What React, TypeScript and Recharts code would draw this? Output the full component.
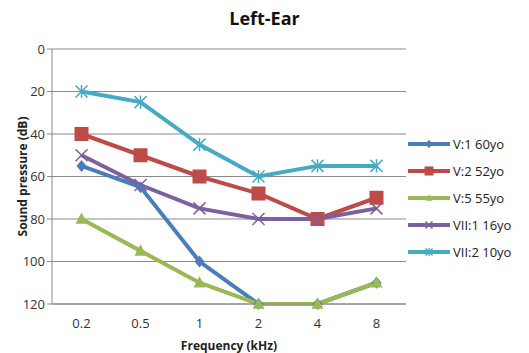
import React from "react"
import { CartesianGrid, Label, Line, LineChart, XAxis, YAxis } from "recharts"

// hearing thresholds per frequency (dB)
const frequencies = ["0.2", "0.5", "1", "2", "4", "8"]
const v1 = [55, 65, 100, 120, 120, 110]
const v2 = [40, 50, 60, 68, 80, 70]
const v5 = [80, 95, 110, 120, 120, 110]
const vii1 = [50, 64, 75, 80, 80, 75]
const vii2 = [20, 25, 45, 60, 55, 55]
const yTicks = [0, 20, 40, 60, 80, 100, 120]

const series = [
  { key: "v1", name: "V:1 60yo", values: v1, color: "#4A7EBB", shape: "diamond" },
  { key: "v2", name: "V:2 52yo", values: v2, color: "#BE4B48", shape: "square" },
  { key: "v5", name: "V:5 55yo", values: v5, color: "#98B954", shape: "triangle" },
  { key: "vii1", name: "VII:1 16yo", values: vii1, color: "#7D60A0", shape: "cross" },
  { key: "vii2", name: "VII:2 10yo", values: vii2, color: "#46AAC5", shape: "star" },
]

const data = frequencies.map((f, i) => {
  const row: Record<string, string | number> = { freq: f }
  series.forEach((s) => (row[s.key] = s.values[i]))
  return row
})

const FONT = "'Open Sans', 'Liberation Sans', sans-serif"

function Marker({ shape, cx, cy, color, r }: { shape: string; cx: number; cy: number; color: string; r: number }) {
  switch (shape) {
    case "diamond":
      return <path d={`M${cx},${cy - r * 1.2}L${cx + r},${cy}L${cx},${cy + r * 1.2}L${cx - r},${cy}Z`} fill={color} />
    case "square":
      return <rect x={cx - r} y={cy - r} width={r * 2} height={r * 2} fill={color} />
    case "triangle":
      return <path d={`M${cx},${cy - r * 1.1}L${cx + r},${cy + r * 0.8}L${cx - r},${cy + r * 0.8}Z`} fill={color} />
    case "cross":
      return (
        <path d={`M${cx - r},${cy - r}L${cx + r},${cy + r}M${cx + r},${cy - r}L${cx - r},${cy + r}`} stroke={color} strokeWidth={1.5} fill="none" />
      )
    default:
      return (
        <path
          d={`M${cx - r},${cy - r}L${cx + r},${cy + r}M${cx + r},${cy - r}L${cx - r},${cy + r}M${cx},${cy - r * 1.1}L${cx},${cy + r * 1.1}`}
          stroke={color}
          strokeWidth={1.5}
          fill="none"
        />
      )
  }
}

const dotSize: Record<string, number> = { diamond: 5, square: 7, triangle: 6, cross: 6, star: 6 }

function LegendBox() {
  return (
    <div style={{ position: "absolute", left: 407, top: 130, fontFamily: FONT, fontSize: 13, color: "#222" }}>
      {series.map((s) => (
        <div key={s.key} style={{ display: "flex", alignItems: "center", height: 27 }}>
          <svg width={44} height={12}>
            <line x1={1} y1={6} x2={43} y2={6} stroke={s.color} strokeWidth={4} />
            <Marker shape={s.shape} cx={22} cy={6} color={s.color} r={s.shape === "square" ? 4.5 : 3.5} />
          </svg>
          <span style={{ marginLeft: 2 }}>{s.name}</span>
        </div>
      ))}
    </div>
  )
}

export default function App() {
  return (
    <div style={{ position: "absolute", left: 0, top: 0, width: 529, height: 353, background: "#fff" }}>
      <div
        style={{
          position: "absolute",
          top: 6,
          width: 529,
          textAlign: "center",
          fontFamily: FONT,
          fontWeight: 700,
          fontSize: 18,
          color: "#111",
        }}
      >
        Left-Ear
      </div>
      <LineChart width={529} height={353} data={data} margin={{ top: 49, right: 123, bottom: 3, left: 10 }}>
        <CartesianGrid vertical={false} stroke="#8a8a8a" strokeWidth={1.2} />
        <XAxis
          dataKey="freq"
          axisLine={{ stroke: "#8a8a8a" }}
          tickLine={false}
          tick={{ fill: "#333", fontSize: 13, fontFamily: FONT }}
          tickMargin={9}
          height={46}
          padding={{ left: 29.5, right: 29.5 }}
        >
          <Label
            value="Frequency (kHz)"
            position="insideBottom"
            offset={0}
            style={{ fontFamily: FONT, fontWeight: 700, fontSize: 12, fill: "#222" }}
          />
        </XAxis>
        <YAxis
          reversed
          domain={[0, 120]}
          ticks={yTicks}
          interval={0}
          width={42}
          axisLine={{ stroke: "#8a8a8a" }}
          tickLine={{ stroke: "#8a8a8a" }}
          tickSize={5}
          tick={{ fill: "#333", fontSize: 13, fontFamily: FONT }}
        >
          <Label
            content={({ viewBox }: any) => {
              const cx = 22
              const cy = viewBox.y + viewBox.height / 2
              return (
                <text
                  x={cx}
                  y={cy}
                  transform={`rotate(-90 ${cx} ${cy})`}
                  textAnchor="middle"
                  dominantBaseline="central"
                  style={{ fontFamily: FONT, fontWeight: 700, fontSize: 12, fill: "#222" }}
                >
                  Sound pressure (dB)
                </text>
              )
            }}
          />
        </YAxis>
        {series.map((s) => (
          <Line
            key={s.key}
            dataKey={s.key}
            name={s.name}
            stroke={s.color}
            strokeWidth={4}
            isAnimationActive={false}
            dot={(p: any) => <Marker key={`${s.key}-${p.index}`} shape={s.shape} cx={p.cx} cy={p.cy} color={s.color} r={dotSize[s.shape]} />}
            activeDot={false}
          />
        ))}
      </LineChart>
      <LegendBox />
    </div>
  )
}
